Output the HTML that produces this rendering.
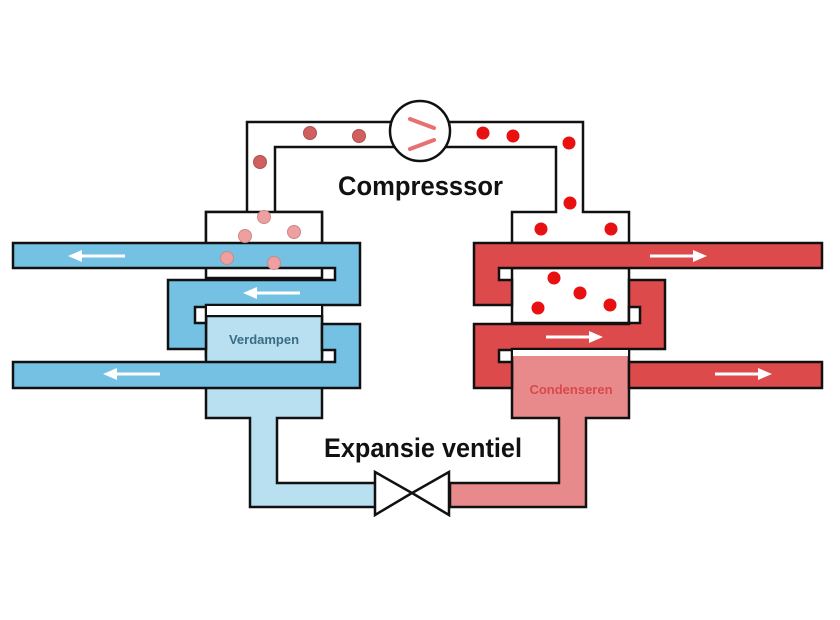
<!DOCTYPE html>
<html><head><meta charset="utf-8"><style>html,body{margin:0;padding:0;background:#fff;width:840px;height:620px;overflow:hidden}</style></head>
<body>
<svg width="840" height="620" viewBox="0 0 840 620" xmlns="http://www.w3.org/2000/svg">
<g stroke="#111" stroke-width="2.5" stroke-linejoin="miter">
<path d="M206,212 H247 V122 H583 V212 H629 V243 H512 V212 H556 V147 H275 V212 H322 V243 H206 Z" fill="#fff"/>
<rect x="206" y="212" width="116" height="66" fill="#fff"/>
<rect x="206" y="305" width="116" height="52" fill="#fff"/>
<path d="M206,316 H322 V418 H277 V483 H376 V507 H250 V418 H206 Z" fill="#b8e0f0"/>
<path d="M13,243 H360 V305 H206 V349 H168 V280 H322 H335 V268 H13 Z" fill="#74c1e3"/>
<rect x="195" y="307" width="11" height="16" fill="#fff"/>
<path d="M322,324 H360 V388 H13 V362 H335 V350 H322 Z" fill="#74c1e3"/>
<rect x="512" y="268" width="117" height="55" fill="#fff"/>
<path d="M512,349 H629 V418 H586 V507 H450 V483 H559 V418 H512 Z" fill="#e88a8c"/>
<path d="M474,243 H822 V268 H499 V280 H512 V305 H474 Z" fill="#dd4a4c"/>
<path d="M474,324 H629 V280 H665 V349 H512 V350 H499 V362 H512 V388 H474 Z" fill="#dd4a4c"/>
<rect x="629" y="307" width="11" height="16" fill="#fff"/>
<rect x="629" y="362" width="193" height="26" fill="#dd4a4c"/>
<path d="M375,472 L412,493 L375,515 Z M449,472 L412,493 L449,515 Z" fill="#fff"/>
<circle cx="420" cy="131" r="30" fill="#fff"/>
</g>
<rect x="207" y="306" width="114" height="9" fill="#fff"/>
<rect x="513" y="350" width="115" height="6" fill="#fff"/>
<g stroke="#e87070" stroke-width="4" stroke-linecap="round">
<line x1="410" y1="119" x2="434" y2="128"/><line x1="410" y1="149" x2="434" y2="140"/>
</g>
<g stroke="#fff" stroke-width="3" fill="#fff">
<line x1="80" y1="256" x2="125" y2="256"/><path d="M68,256 L82,250 L82,262 Z" stroke="none"/>
<line x1="255" y1="293" x2="300" y2="293"/><path d="M243,293 L257,287 L257,299 Z" stroke="none"/>
<line x1="115" y1="374" x2="160" y2="374"/><path d="M103,374 L117,368 L117,380 Z" stroke="none"/>
<line x1="650" y1="256" x2="695" y2="256"/><path d="M707,256 L693,250 L693,262 Z" stroke="none"/>
<line x1="546" y1="337" x2="591" y2="337"/><path d="M603,337 L589,331 L589,343 Z" stroke="none"/>
<line x1="715" y1="374" x2="760" y2="374"/><path d="M772,374 L758,368 L758,380 Z" stroke="none"/>
</g>
<g fill="#d06060" stroke="#b05050" stroke-width="1">
<circle cx="310" cy="133" r="6.5"/><circle cx="359" cy="136" r="6.5"/><circle cx="260" cy="162" r="6.5"/>
</g>
<g fill="#eea0a0" stroke="#c88" stroke-width="1">
<circle cx="264" cy="217" r="6.5"/><circle cx="245" cy="236" r="6.5"/><circle cx="294" cy="232" r="6.5"/><circle cx="227" cy="258" r="6.5"/><circle cx="274" cy="263" r="6.5"/>
</g>
<g fill="#e81010">
<circle cx="483" cy="133" r="6.5"/><circle cx="513" cy="136" r="6.5"/><circle cx="569" cy="143" r="6.5"/><circle cx="570" cy="203" r="6.5"/><circle cx="541" cy="229" r="6.5"/><circle cx="611" cy="229" r="6.5"/><circle cx="554" cy="278" r="6.5"/><circle cx="580" cy="293" r="6.5"/><circle cx="538" cy="308" r="6.5"/><circle cx="610" cy="305" r="6.5"/>
</g>
<g font-family="Liberation Sans, sans-serif" font-weight="bold">
<text x="338" y="195" font-size="27" textLength="165" lengthAdjust="spacingAndGlyphs" fill="#111">Compresssor</text>
<text x="324" y="457" font-size="27" textLength="198" lengthAdjust="spacingAndGlyphs" fill="#111">Expansie ventiel</text>
<text x="264" y="344" font-size="13" text-anchor="middle" fill="#3a6c84">Verdampen</text>
<text x="571" y="394" font-size="13" text-anchor="middle" fill="#d84a4a">Condenseren</text>
</g>
</svg>
</body></html>
